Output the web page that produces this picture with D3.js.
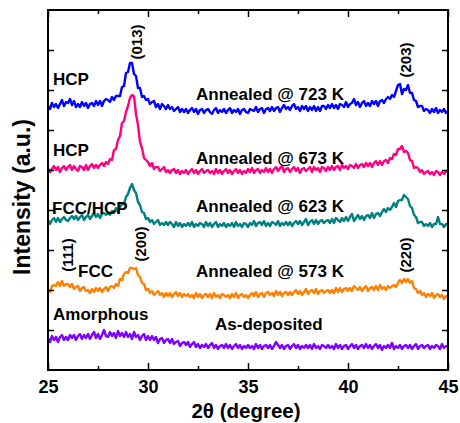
<!DOCTYPE html>
<html>
<head>
<meta charset="utf-8">
<script src="https://cdn.jsdelivr.net/npm/d3@7"></script>
<style>
  html, body { margin: 0; padding: 0; background: #fff; }
  svg { display: block; }
  text { font-family: "Liberation Sans", Arial, sans-serif; }
</style>
</head>
<body>
<svg id="chart" width="460" height="423"></svg>
<script>
// 2θ sampling: 25.0 .. 45.0 in 0.1° steps (201 points)
const twoTheta = d3.range(0, 201).map(i => +(25 + i * 0.1).toFixed(1));

const annealed723 = [
  264,261,267,263,266,262,266,270,264,268,
  267,271,265,269,263,266,263,268,264,267,
  262,266,267,264,269,265,269,264,269,271,
  270,268,273,270,274,274,274,283,284,297,
  298,307,307,296,294,282,282,273,274,270,
  271,266,268,269,263,266,261,266,264,261,
  265,261,263,259,261,263,258,261,258,261,
  257,260,262,258,261,256,260,261,257,260,
  261,258,256,260,262,257,260,258,261,257,
  260,262,257,260,258,261,256,260,261,258,
  257,261,260,259,263,258,261,262,257,261,
  262,259,263,259,262,263,258,262,265,261,
  263,260,264,266,261,263,259,264,261,264,
  259,263,260,264,259,263,259,264,264,261,
  265,262,266,262,265,261,266,265,263,268,
  263,266,267,271,265,268,263,267,269,264,
  267,264,269,266,269,264,269,270,267,271,
  273,271,275,273,279,285,286,276,281,280,
  285,277,277,270,269,263,264,264,259,261,
  260,257,261,258,262,257,260,258,261,257,
  259
];
const annealed673 = [
  202,198,201,204,200,203,198,202,204,200,
  203,205,200,204,201,199,204,203,200,205,
  200,204,206,202,205,202,205,207,204,208,
  206,211,210,220,221,230,234,247,249,258,
  264,272,275,274,256,245,228,222,212,210,
  208,204,207,201,203,203,199,201,203,198,
  200,197,200,201,197,200,196,199,197,200,
  196,199,201,197,200,196,199,201,197,199,
  200,197,199,196,201,197,200,196,199,201,
  197,200,196,199,201,197,200,196,199,197,
  201,198,202,197,200,201,197,200,198,202,
  198,201,197,201,203,199,202,204,198,201,
  202,198,201,203,199,202,197,201,202,199,
  201,203,198,203,200,202,198,203,202,199,
  203,200,204,200,203,204,200,205,202,204,
  201,205,204,202,206,202,205,206,203,207,
  204,207,203,207,209,205,209,205,209,210,
  207,212,211,216,215,221,221,224,218,219,
  217,210,209,202,203,202,198,200,196,198,
  199,196,198,195,199,198,195,198,196,199,
  198
];
const annealed623 = [
  150,146,150,152,148,152,148,151,153,150,
  149,152,154,151,154,150,153,155,150,153,
  155,151,154,157,153,156,152,156,157,155,
  157,155,159,157,162,158,163,166,166,173,
  176,182,186,180,177,168,165,158,157,151,
  152,148,150,146,148,150,145,147,145,148,
  145,148,146,143,148,144,147,143,146,144,
  147,144,148,143,146,144,147,146,143,148,
  144,147,143,146,148,143,146,144,147,143,
  146,144,147,143,148,144,146,143,147,146,
  143,147,145,149,144,147,148,145,149,144,
  147,144,148,147,145,149,144,147,145,148,
  145,148,144,147,149,146,149,145,148,151,
  145,148,150,146,150,146,149,150,147,149,
  150,147,151,147,152,150,148,152,149,153,
  149,153,156,149,152,155,151,154,150,154,
  155,152,157,152,156,157,154,158,161,158,
  162,160,163,167,163,169,170,170,175,173,
  171,164,162,155,153,147,148,148,144,146,
  144,147,143,146,146,153,146,146,143,146,
  145
];
const annealed573 = [
  79,78,84,85,84,88,84,89,84,86,
  86,83,86,81,83,84,79,82,83,79,
  80,77,81,78,82,79,82,78,81,83,
  79,83,84,82,86,84,91,90,96,98,
  97,102,102,101,102,95,93,87,86,80,
  81,77,79,75,77,79,75,77,73,77,
  74,77,73,76,78,74,77,73,76,74,
  76,73,75,72,77,73,76,72,75,76,
  73,76,72,77,73,75,72,76,75,73,
  75,72,76,73,77,72,75,76,73,75,
  72,75,77,74,78,73,76,77,73,77,
  78,75,77,74,79,75,78,74,77,78,
  75,78,75,78,80,76,79,75,78,81,
  76,79,80,77,81,76,79,80,77,79,
  80,77,80,77,82,78,82,78,81,82,
  79,82,79,84,82,80,83,79,82,84,
  79,82,83,80,84,80,85,81,83,80,
  84,82,84,85,83,87,90,87,91,88,
  91,87,89,82,81,77,79,75,77,73,
  76,74,77,72,75,76,73,75,71,74,
  73
];
const asDeposited = [
  32,28,34,30,33,28,33,35,30,33,
  30,35,32,35,30,34,36,31,35,32,
  36,31,35,38,32,36,31,35,40,34,
  33,38,34,37,32,39,34,37,33,38,
  33,36,31,38,33,35,30,34,36,30,
  34,30,34,30,33,27,31,32,27,30,
  31,27,31,26,28,29,24,27,28,25,
  28,23,26,28,23,26,22,25,23,26,
  22,25,27,22,25,21,24,25,22,26,
  22,25,21,24,26,22,25,21,24,22,
  25,22,24,21,26,22,25,21,24,25,
  22,25,21,24,28,25,22,25,21,24,
  25,21,24,26,22,25,21,24,22,25,
  22,25,21,26,22,24,21,25,24,22,
  25,22,24,21,26,22,25,21,24,25,
  21,24,26,22,25,21,24,25,22,26,
  22,25,21,24,26,22,25,20,24,22,
  25,22,27,21,24,22,25,21,24,25,
  22,25,21,24,26,21,24,25,22,24,
  25,21,24,22,25,24,21,26,22,24,
  23
];

const seriesNames = ["As-deposited", "Annealed @ 573 K", "Annealed @ 623 K", "Annealed @ 673 K", "Annealed @ 723 K"];
const seriesValues = [asDeposited, annealed573, annealed623, annealed673, annealed723];
const seriesColors = ["#7f00ff", "#ff8000", "#008080", "#ff0080", "#0000ff"];

const xMajorTicks = [25, 30, 35, 40, 45];
const xMinorTicks = [27.5, 32.5, 37.5, 42.5];
const yTicks = [40, 80, 120, 160, 200, 240, 280, 320];

// Annotations (data coordinates)
const phaseLabels = ["HCP", "HCP", "FCC/HCP", "FCC", "Amorphous"];
const phaseX = [25.25, 25.25, 25.2, 26.5, 25.25];
const phaseY = [285, 214, 156, 93, 50];
const condX = [32.4, 32.4, 32.4, 32.4, 33.35];
const condY = [270, 206, 158, 93, 40];
const condLabels = ["Annealed @ 723 K", "Annealed @ 673 K", "Annealed @ 623 K", "Annealed @ 573 K", "As-deposited"];
const millerLabels = ["(013)", "(203)", "(111)", "(200)", "(220)"];
const millerX = [29.4, 42.85, 25.95, 29.6, 42.85];
const millerY = [328, 310, 115, 126, 115];

const svg = d3.select("#chart");
const L = 48, R = 448, T = 10, B = 370;
const x = d3.scaleLinear().domain([25, 45]).range([L, R]);
const y = d3.scaleLinear().domain([0, 360]).range([B, T]);

svg.append("defs").append("clipPath").attr("id", "clip")
  .append("rect").attr("x", L).attr("y", T).attr("width", R - L).attr("height", B - T);

const line = d3.line().x((d, i) => x(twoTheta[i])).y(d => y(d));
const g = svg.append("g").attr("clip-path", "url(#clip)");
seriesValues.forEach((vals, k) => {
  g.append("path").datum(vals)
    .attr("fill", "none")
    .attr("stroke", seriesColors[k])
    .attr("stroke-width", 2.4)
    .attr("stroke-linejoin", "round")
    .attr("d", line);
});

// Axes
function styleAxis(sel) {
  sel.select(".domain").remove();
  sel.selectAll(".tick line").attr("stroke", "#000").attr("stroke-width", 1.5);
}
const axB = svg.append("g").attr("transform", `translate(0,${B})`)
  .call(d3.axisBottom(x).tickValues(xMajorTicks).tickSize(-7).tickPadding(10).tickFormat(d3.format("d")));
styleAxis(axB);
axB.selectAll("text").attr("font-size", 18).attr("font-weight", "bold").attr("fill", "#000")
  .style("font-family", "'Liberation Sans', Arial, sans-serif");
styleAxis(svg.append("g").attr("transform", `translate(0,${B})`)
  .call(d3.axisBottom(x).tickValues(xMinorTicks).tickSize(-4).tickFormat("")));
styleAxis(svg.append("g").attr("transform", `translate(0,${T})`)
  .call(d3.axisTop(x).tickValues(xMajorTicks).tickSize(-7).tickFormat("")));
styleAxis(svg.append("g").attr("transform", `translate(0,${T})`)
  .call(d3.axisTop(x).tickValues(xMinorTicks).tickSize(-4).tickFormat("")));
styleAxis(svg.append("g").attr("transform", `translate(${L},0)`)
  .call(d3.axisLeft(y).tickValues(yTicks).tickSize(-6).tickFormat("")));
styleAxis(svg.append("g").attr("transform", `translate(${R},0)`)
  .call(d3.axisRight(y).tickValues(yTicks).tickSize(-6).tickFormat("")));

svg.append("rect").attr("x", L).attr("y", T).attr("width", R - L).attr("height", B - T)
  .attr("fill", "none").attr("stroke", "#000").attr("stroke-width", 2);

// Axis titles
svg.append("text").attr("x", 246).attr("y", 418).attr("text-anchor", "middle")
  .attr("font-size", 20.5).attr("font-weight", "bold").text("2θ (degree)");
svg.append("text").attr("transform", "translate(30,197) rotate(-90)").attr("text-anchor", "middle")
  .attr("font-size", 23).attr("font-weight", "bold").text("Intensity (a.u.)");

// Labels
phaseLabels.forEach((t, i) => {
  svg.append("text").attr("x", x(phaseX[i])).attr("y", y(phaseY[i]))
    .attr("font-size", 17).attr("font-weight", "bold").text(t);
});
condLabels.forEach((t, i) => {
  svg.append("text").attr("x", x(condX[i])).attr("y", y(condY[i]))
    .attr("font-size", 17).attr("font-weight", "bold").text(t);
});
millerLabels.forEach((t, i) => {
  svg.append("text")
    .attr("transform", `translate(${x(millerX[i])},${y(millerY[i])}) rotate(-90)`)
    .attr("text-anchor", "middle").attr("dominant-baseline", "central")
    .attr("font-size", 15).attr("font-weight", "bold").text(t);
});
</script>
</body>
</html>
